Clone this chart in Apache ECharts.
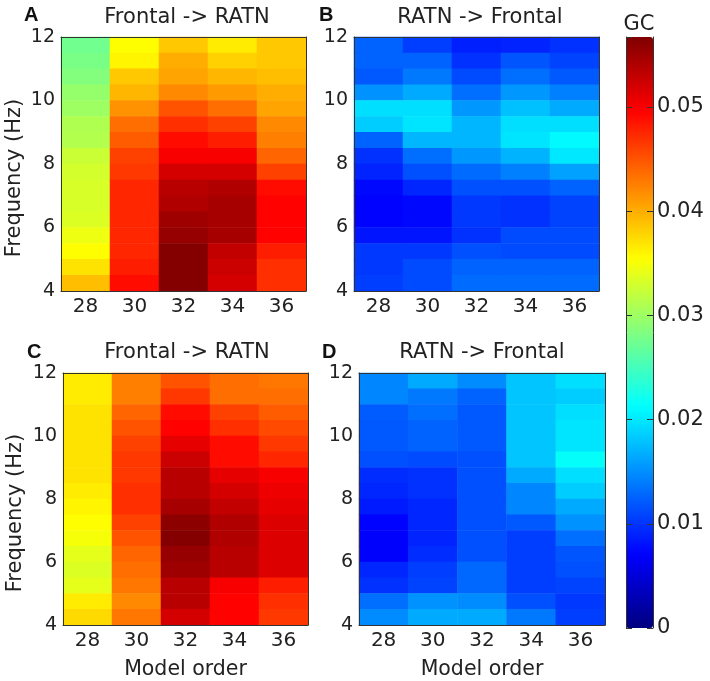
<!DOCTYPE html>
<html><head><meta charset="utf-8">
<style>html,body{margin:0;padding:0;background:#fff}#c{width:710px;height:681px}</style>
<script src="https://cdn.jsdelivr.net/npm/echarts@6/dist/echarts.min.js"></script>
</head><body><div id="c"></div>
<script>
const modelOrders = ['28','30','32','34','36'];
const rowIds = ['r1','r2','r3','r4','r5','r6','r7','r8','r9','r10','r11','r12','r13','r14','r15','r16'];
// each column lists 16 frequency rows, from 12 Hz (top) down to 4 Hz (bottom)
const panelA = [
 [.0275,.028,.0285,.0295,.030,.031,.0312,.0325,.033,.0332,.0332,.0335,.0345,.0355,.037,.039],
 [.0355,.036,.0385,.0395,.0415,.0435,.0445,.046,.0465,.0475,.0475,.0475,.0475,.0475,.048,.049],
 [.0385,.040,.0405,.042,.045,.047,.049,.050,.052,.0535,.054,.055,.0555,.0565,.0565,.0565],
 [.0365,.038,.0395,.041,.0435,.046,.048,.050,.052,.054,.0545,.0545,.0545,.053,.0525,.052],
 [.0385,.0385,.039,.040,.0405,.042,.0425,.044,.046,.049,.0495,.0495,.0495,.048,.047,.047]
];
const panelB = [
 [.0125,.0125,.012,.0152,.0195,.0185,.0125,.0098,.009,.0075,.0072,.0072,.0082,.0102,.0102,.0105],
 [.0105,.0125,.0138,.0165,.0195,.0198,.0172,.0132,.0115,.0092,.0075,.0075,.0082,.0102,.0112,.0112],
 [.0088,.0098,.0112,.0132,.0155,.0172,.0172,.0155,.013,.0115,.0102,.0102,.0098,.0115,.0125,.013],
 [.009,.0118,.0132,.0155,.0178,.0195,.0198,.017,.0142,.0115,.0098,.0098,.0112,.0112,.0125,.013],
 [.0098,.0108,.012,.0142,.0165,.0195,.021,.02,.016,.0125,.0108,.0108,.0112,.0112,.0125,.013]
];
const panelC = [
 [.0365,.0365,.037,.037,.037,.037,.037,.0365,.036,.0355,.035,.034,.0335,.034,.0365,.0375],
 [.0425,.0425,.044,.045,.046,.0465,.0465,.047,.047,.046,.045,.044,.0435,.043,.042,.043],
 [.045,.0465,.049,.0495,.051,.0525,.0535,.0535,.0545,.056,.0565,.0555,.055,.0535,.0535,.052],
 [.0435,.0435,.046,.047,.049,.049,.051,.052,.053,.054,.054,.0535,.0535,.05,.0495,.0495],
 [.043,.0435,.0445,.0455,.0465,.0475,.05,.0505,.051,.0515,.0515,.0515,.0515,.048,.047,.0465]
];
const panelD = [
 [.0145,.0145,.0122,.012,.012,.0115,.0095,.0092,.0085,.0072,.007,.007,.0092,.0098,.0132,.0148],
 [.0165,.0138,.0132,.0125,.0125,.0112,.0098,.0098,.0092,.0092,.009,.0095,.0105,.0108,.0152,.0165],
 [.0148,.0125,.012,.012,.012,.0115,.0115,.0115,.0115,.0115,.0115,.0115,.0128,.0128,.0148,.0165],
 [.018,.018,.018,.018,.018,.018,.0165,.0145,.0145,.012,.0105,.0105,.0105,.0105,.0115,.0138],
 [.0195,.0185,.0195,.0198,.0198,.0215,.0195,.0185,.0165,.0152,.0132,.0118,.0115,.0108,.0102,.0105]
];
const panelTitles = ['Frontal -> RATN','RATN -> Frontal','Frontal -> RATN','RATN -> Frontal'];
const panelLetters = ['A','B','C','D'];
const gcMax = 0.0567;
const jet = ['#000080','#0000ff','#0080ff','#00ffff','#80ff80','#ffff00','#ff8000','#ff0000','#800000'];

const FONT='"DejaVu Sans"', TXT='#222', LINE='#333';
const boxes=[
 {l:61,t:37,w:245,h:254,tx:187,ty:7,lx:24,ly:5,name:false,freq:true},
 {l:354,t:37,w:245,h:254,tx:480,ty:7,lx:319,ly:5,name:false,freq:false},
 {l:63,t:373,w:245,h:253,tx:187,ty:342,lx:27,ly:342,name:true,freq:true},
 {l:359,t:373,w:246,h:253,tx:482,ty:342,lx:322,ly:342,name:true,freq:false}
];
const panels=[panelA,panelB,panelC,panelD];
const grids=[],xAxes=[],yAxes=[],series=[],titles=[];
boxes.forEach((b,i)=>{
  grids.push({left:b.l,top:b.t,width:b.w,height:b.h});
  const xBase={type:'category',gridIndex:i,data:modelOrders,z:5,
    axisLine:{show:true,onZero:false,lineStyle:{color:LINE,width:1}},axisTick:{show:false},splitLine:{show:false}};
  xAxes.push(Object.assign({},xBase,{position:'bottom',
    axisLabel:{show:true,interval:0,margin:6,fontFamily:FONT,fontSize:20,color:TXT},
    name:b.name?'Model order':'',nameLocation:'middle',nameGap:34,
    nameTextStyle:{fontFamily:FONT,fontSize:20.5,color:TXT}}));
  xAxes.push(Object.assign({},xBase,{position:'top',axisLabel:{show:false}}));
  // hidden category axis holds the 16 rows; the value axis shows the Hz scale
  yAxes.push({type:'category',gridIndex:i,data:rowIds.slice().reverse(),position:'right',z:5,
    axisLine:{show:true,onZero:false,lineStyle:{color:LINE,width:1}},axisTick:{show:false},axisLabel:{show:false},splitLine:{show:false}});
  yAxes.push({type:'value',gridIndex:i,min:4,max:12,interval:2,position:'left',z:5,
    axisLine:{show:true,onZero:false,lineStyle:{color:LINE,width:1}},axisTick:{show:false},splitLine:{show:false},
    axisLabel:{margin:6,fontFamily:FONT,fontSize:19,color:TXT},
    name:b.freq?'Frequency (Hz)':'',nameLocation:'middle',nameGap:i===0?36:37,
    nameTextStyle:{fontFamily:FONT,fontSize:21,color:TXT,padding:[0,28,0,0]}});
  const data=[];
  panels[i].forEach((col,cx)=>col.forEach((v,r)=>data.push([cx,rowIds.length-1-r,v])));
  series.push({type:'heatmap',xAxisIndex:i*2,yAxisIndex:i*2,data,z:2,silent:true,
    emphasis:{disabled:true},itemStyle:{borderWidth:0}});
  titles.push({text:panelTitles[i],left:b.tx,top:b.ty,textAlign:'center',padding:0,
    textStyle:{fontFamily:FONT,fontSize:21,fontWeight:'normal',color:TXT}});
  titles.push({text:panelLetters[i],left:b.lx,top:b.ly,padding:0,
    textStyle:{fontFamily:'"Liberation Sans"',fontSize:20,fontWeight:'bold',color:'#111'}});
});
// colour bar axes
grids.push({left:626,top:37,width:27,height:591});
xAxes.push({type:'value',gridIndex:4,min:0,max:1,show:false});
yAxes.push({type:'value',gridIndex:4,min:0,max:gcMax,interval:0.01,position:'right',z:6,
  axisLine:{show:true,onZero:false,lineStyle:{color:LINE,width:1}},
  axisTick:{show:true,inside:true,length:6,lineStyle:{color:LINE,width:1}},splitLine:{show:false},
  axisLabel:{inside:false,margin:4,showMaxLabel:false,fontFamily:FONT,fontSize:21,color:TXT,
    formatter:v=>v===0?'0':v.toFixed(2)}});
yAxes.push({type:'value',gridIndex:4,min:0,max:gcMax,interval:0.01,position:'left',z:6,
  axisLine:{show:true,onZero:false,lineStyle:{color:LINE,width:1}},
  axisTick:{show:true,inside:true,length:6,lineStyle:{color:LINE,width:1}},splitLine:{show:false},axisLabel:{show:false}});
titles.push({text:'GC',left:639,top:14,textAlign:'center',padding:0,
  textStyle:{fontFamily:FONT,fontSize:21,fontWeight:'normal',color:TXT}});

const chart=echarts.init(document.getElementById('c'),null,{renderer:'canvas'});
chart.setOption({
  animation:false,backgroundColor:'#fff',
  title:titles,grid:grids,xAxis:xAxes,yAxis:yAxes,series,
  visualMap:{type:'continuous',min:0,max:gcMax,seriesIndex:[0,1,2,3],dimension:2,show:true,calculable:false,
    realtime:false,hoverLink:false,left:626,top:37,itemWidth:27,itemHeight:591,padding:0,text:null,showLabel:false,
    orient:'vertical',inRange:{color:jet}}
});
</script></body></html>
